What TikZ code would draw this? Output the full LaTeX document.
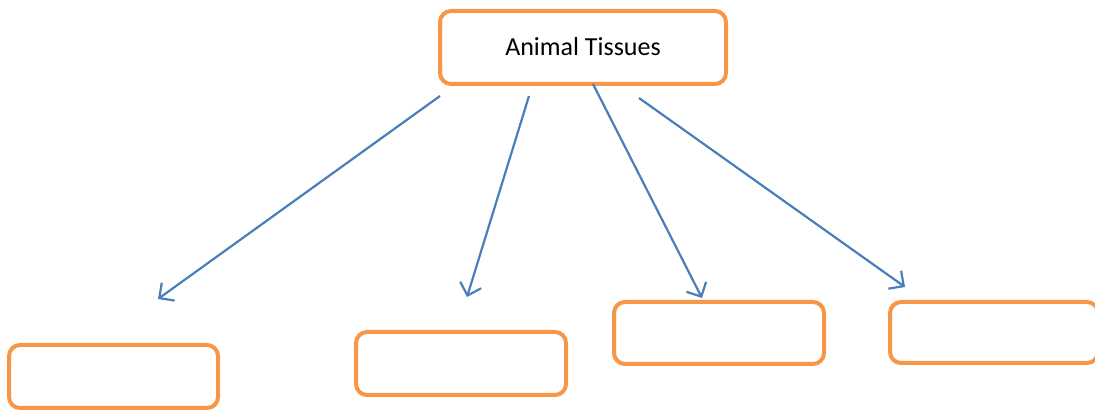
\documentclass[tikz,border=0pt]{standalone}
\usepackage{fontspec}
\setmainfont{Carlito}
\usepackage{xcolor}
\definecolor{boxorange}{RGB}{247, 150, 70}
\definecolor{arrowblue}{RGB}{74, 126, 187}
\usepackage{tikz}
\usetikzlibrary{arrows.meta,positioning}

\begin{document}
\begin{tikzpicture}[
  x=1pt, y=-1pt,
  box/.style={draw=boxorange, line width=4pt, rounded corners=11pt, fill=white, inner sep=0pt, font=\fontsize{26}{30}\selectfont},
  arrow/.style={-{Straight Barb[length=11pt, width=22pt, line width=2.2pt]}, line width=2.2pt, color=arrowblue}
]
\useasboundingbox (0,0) rectangle (1095,411);

\node[box, minimum width=286pt, minimum height=73pt] (tissues) at (583,47.5) {\raisebox{2pt}{Animal Tissues}};
\node[box, minimum width=209pt, minimum height=63pt] (b1) at (113.5,376.5) {};
\node[box, minimum width=210pt, minimum height=63pt] (b2) at (461,363.5) {};
\node[box, minimum width=210pt, minimum height=62pt] (b3) at (719,333) {};
\node[box, minimum width=208pt, minimum height=61pt] (b4) at (994,332.5) {};

\coordinate (s1) at (440,96);
\coordinate (s2) at (529,96);
\coordinate (s3) at (593,84);
\coordinate (s4) at (639,98);
\coordinate (t1) at (158,299);
\coordinate (t2) at (467,297);
\coordinate (t3) at (702,298);
\coordinate (t4) at (905,287);

\draw[arrow] (s1) -- (t1);
\draw[arrow] (s2) -- (t2);
\draw[arrow] (s3) -- (t3);
\draw[arrow] (s4) -- (t4);
\end{tikzpicture}
\end{document}
